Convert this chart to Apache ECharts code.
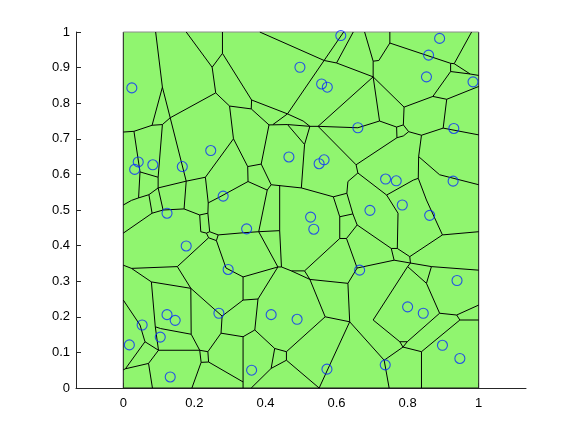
<!DOCTYPE html>
<html>
<head>
<meta charset="utf-8">
<script src="https://cdn.jsdelivr.net/npm/echarts@6/dist/echarts.min.js"></script>
<style>
  html, body { margin: 0; padding: 0; background: #fff; }
  #main { width: 581px; height: 437px; }
</style>
</head>
<body>
<div id="main"></div>
<script>
var dom = document.getElementById('main');
var chart = echarts.init(dom, null, { renderer: 'canvas' });

// sample points (blue circles)
var circleX = [0.024, 0.042, 0.032, 0.083, 0.166, 0.246, 0.281, 0.497, 0.612, 0.558,
  0.574, 0.660, 0.466, 0.565, 0.551, 0.890, 0.859, 0.853, 0.984, 0.930,
  0.738, 0.768, 0.928, 0.785, 0.694, 0.862, 0.665, 0.939, 0.800, 0.844,
  0.898, 0.947, 0.737, 0.527, 0.536, 0.347, 0.416, 0.489, 0.361, 0.573,
  0.123, 0.177, 0.295, 0.269, 0.123, 0.146, 0.053, 0.104, 0.017, 0.132];
var circleY = [0.843, 0.635, 0.614, 0.627, 0.622, 0.667, 0.539, 0.901, 0.990, 0.854,
  0.845, 0.731, 0.649, 0.641, 0.630, 0.982, 0.935, 0.874, 0.860, 0.729,
  0.587, 0.582, 0.581, 0.514, 0.499, 0.485, 0.331, 0.302, 0.228, 0.210,
  0.120, 0.083, 0.065, 0.480, 0.446, 0.447, 0.206, 0.193, 0.050, 0.053,
  0.491, 0.399, 0.333, 0.210, 0.206, 0.190, 0.177, 0.143, 0.121, 0.031];

// the unit square that is tessellated
var squareCorners = [[0, 0], [1, 0], [1, 1], [0, 1]];

// cell edges, each a polyline of [x, y] vertices
var cellEdges = [
  [[0.091,1],[0.110,0.845],[0.132,0.759],[0.177,0.581]],
  [[0.110,0.845],[0.081,0.738],[0.030,0.721],[0,0.719]],
  [[0.081,0.738],[0.110,0.740],[0.132,0.759]],
  [[0.110,0.740],[0.098,0.592],[0.098,0.562]],
  [[0.030,0.721],[0.047,0.607],[0.098,0.592]],
  [[0.047,0.607],[0.043,0.534],[0.023,0.527],[0,0.514]],
  [[0.043,0.534],[0.072,0.543],[0.098,0.562]],
  [[0.072,0.543],[0.081,0.491],[0,0.435]],
  [[0.098,0.562],[0.177,0.581],[0.231,0.592]],
  [[0.098,0.562],[0.112,0.500],[0.081,0.491]],
  [[0.177,0.581],[0.171,0.503]],
  [[0.112,0.500],[0.171,0.503],[0.215,0.486],[0.238,0.491]],
  [[0.132,0.759],[0.260,0.829]],
  [[0.177,1],[0.250,0.901],[0.260,0.829],[0.299,0.792],[0.310,0.700],[0.231,0.592]],
  [[0.279,1],[0.279,0.940],[0.250,0.901]],
  [[0.279,0.940],[0.361,0.809],[0.360,0.784],[0.299,0.792]],
  [[0.310,0.700],[0.350,0.622],[0.388,0.629],[0.410,0.739],[0.360,0.784]],
  [[0.350,0.622],[0.351,0.580]],
  [[0.231,0.592],[0.239,0.520],[0.238,0.491]],
  [[0.239,0.520],[0.272,0.537],[0.351,0.580]],
  [[0.215,0.486],[0.218,0.439],[0.234,0.435],[0.243,0.439],[0.238,0.491]],
  [[0.243,0.439],[0.267,0.430],[0.262,0.414],[0.240,0.422],[0.234,0.435]],
  [[0.267,0.430],[0.337,0.436],[0.381,0.439]],
  [[0.262,0.414],[0.289,0.337],[0.337,0.312]],
  [[0.240,0.422],[0.152,0.341]],
  [[0,0.345],[0.023,0.336],[0.152,0.341]],
  [[0.023,0.336],[0.079,0.298],[0.190,0.280],[0.152,0.341]],
  [[0.079,0.298],[0.090,0.172],[0.099,0.106]],
  [[0.190,0.280],[0.191,0.151],[0.215,0.106]],
  [[0.190,0.280],[0.278,0.202],[0.275,0.154],[0.238,0.102]],
  [[0.278,0.202],[0.337,0.247],[0.337,0.312]],
  [[0,0.247],[0.047,0.177],[0.061,0.130],[0.099,0.106],[0.215,0.106]],
  [[0.090,0.172],[0.105,0.167],[0.191,0.151]],
  [[0.215,0.106],[0.238,0.102],[0.240,0.073],[0.219,0.072],[0.215,0.106]],
  [[0.219,0.072],[0.193,0]],
  [[0.240,0.073],[0.337,0.017]],
  [[0.275,0.154],[0.337,0.144],[0.337,0]],
  [[0.061,0.130],[0.006,0.054],[0,0.051]],
  [[0.006,0.054],[0.071,0.069],[0.082,0]],
  [[0.099,0.106],[0.071,0.069]],
  [[0.416,0.571],[0.405,0.556],[0.381,0.439]],
  [[0.351,0.580],[0.405,0.556]],
  [[0.381,0.439],[0.440,0.442],[0.440,0.569]],
  [[0.381,0.439],[0.435,0.340],[0.445,0.340],[0.440,0.442]],
  [[0.337,0.312],[0.435,0.340]],
  [[0.445,0.340],[0.473,0.329],[0.510,0.329],[0.609,0.420]],
  [[0.473,0.329],[0.525,0.305],[0.510,0.329]],
  [[0.525,0.305],[0.632,0.294],[0.658,0.337]],
  [[0.525,0.305],[0.568,0.200],[0.637,0.186],[0.632,0.294]],
  [[0.609,0.420],[0.609,0.481],[0.591,0.537]],
  [[0.609,0.481],[0.646,0.489],[0.658,0.458],[0.628,0.420],[0.609,0.420]],
  [[0.628,0.420],[0.658,0.337],[0.762,0.359]],
  [[0.337,0.247],[0.379,0.250],[0.435,0.340]],
  [[0.379,0.250],[0.370,0.163],[0.337,0.144]],
  [[0.370,0.163],[0.426,0.111],[0.459,0.102],[0.568,0.200]],
  [[0.426,0.111],[0.416,0.055],[0.459,0.078],[0.459,0.102]],
  [[0.416,0.055],[0.360,0]],
  [[0.459,0.078],[0.551,0],[0.637,0.186]],
  [[0.637,0.186],[0.734,0.078],[0.748,0]],
  [[0.734,0.078],[0.787,0.115]],
  [[0.778,0.130],[0.799,0.130],[0.787,0.115],[0.778,0.130]],
  [[0.787,0.115],[0.839,0.102],[0.839,0]],
  [[0.839,0.102],[0.947,0.191],[1,0.191]],
  [[0.947,0.191],[0.938,0.205],[1,0.233]],
  [[0.938,0.205],[0.890,0.210],[0.799,0.130]],
  [[0.890,0.210],[0.853,0.294],[0.800,0.341],[0.703,0.191],[0.778,0.130]],
  [[0.853,0.294],[0.867,0.341],[1,0.331]],
  [[0.867,0.341],[0.808,0.351],[0.800,0.341]],
  [[0.808,0.351],[0.806,0.369],[0.898,0.430],[1,0.439]],
  [[0.806,0.369],[0.771,0.392],[0.754,0.392],[0.658,0.458]],
  [[0.754,0.392],[0.762,0.359],[0.808,0.351]],
  [[0.771,0.392],[0.773,0.491],[0.741,0.542]],
  [[0.898,0.430],[0.853,0.528],[0.830,0.589],[0.831,0.650]],
  [[0.831,0.650],[0.890,0.599],[1,0.571]],
  [[0.830,0.589],[0.816,0.584],[0.741,0.542],[0.660,0.604]],
  [[0.831,0.650],[0.839,0.710],[0.900,0.730],[1,0.711]],
  [[0.839,0.710],[0.803,0.720],[0.788,0.708],[0.770,0.703],[0.769,0.733],[0.788,0.739],[0.803,0.720]],
  [[0.788,0.739],[0.790,0.789],[0.871,0.819],[0.910,0.811],[1,0.847]],
  [[0.910,0.811],[0.900,0.730]],
  [[0.871,0.819],[0.921,0.889],[0.921,0.912],[0.750,0.969],[0.750,1]],
  [[0.921,0.889],[0.976,0.882],[1,0.878]],
  [[0.980,1],[0.931,0.911],[0.976,0.882]],
  [[0.931,0.911],[0.921,0.912]],
  [[0.750,0.969],[0.719,0.920],[0.703,0.918],[0.679,1]],
  [[0.703,0.918],[0.703,0.874],[0.790,0.789]],
  [[0.703,0.874],[0.721,0.750],[0.769,0.733]],
  [[0.721,0.750],[0.660,0.731],[0.548,0.735],[0.525,0.735],[0.462,0.740],[0.410,0.739]],
  [[0.770,0.703],[0.655,0.627],[0.548,0.735]],
  [[0.655,0.627],[0.660,0.604],[0.632,0.580],[0.629,0.547],[0.646,0.489]],
  [[0.629,0.547],[0.591,0.537],[0.501,0.562],[0.416,0.571],[0.388,0.629]],
  [[0.501,0.562],[0.510,0.684],[0.462,0.740]],
  [[0.510,0.684],[0.525,0.735]],
  [[0.548,0.735],[0.703,0.874]],
  [[0.600,0.913],[0.703,0.874]],
  [[0.647,1],[0.600,0.913],[0.565,0.920],[0.620,1]],
  [[0.384,1],[0.565,0.920],[0.462,0.770]],
  [[0.462,0.770],[0.421,0.740]],
  [[0.462,0.770],[0.506,0.750],[0.525,0.735]],
  [[0.361,0.809],[0.462,0.770]]
];

var xTicks = [0, 0.2, 0.4, 0.6, 0.8, 1];

var axisFont = { fontFamily: 'Liberation Sans', fontSize: 13, color: '#000' };

chart.setOption({
  animation: false,
  grid: { left: 76, right: 55, top: 32, bottom: 49, containLabel: false },
  xAxis: {
    type: 'value',
    min: -0.1331,
    max: 1.1331,
    splitLine: { show: false },
    axisLine: { onZero: false, lineStyle: { color: '#262626', width: 1 } },
    axisTick: { inside: true, length: 5, customValues: xTicks, lineStyle: { color: '#262626' } },
    axisLabel: Object.assign({ margin: 9, customValues: xTicks }, axisFont)
  },
  yAxis: {
    type: 'value',
    min: 0,
    max: 1,
    interval: 0.1,
    splitLine: { show: false },
    axisLine: { show: true, onZero: false, lineStyle: { color: '#262626', width: 1 } },
    axisTick: { show: true, inside: true, length: 5, lineStyle: { color: '#262626' } },
    axisLabel: Object.assign({ margin: 6 }, axisFont)
  },
  series: [
    {
      type: 'custom',
      z: 1,
      silent: true,
      data: [0],
      renderItem: function (params, api) {
        var pts = squareCorners.map(function (c) { return api.coord(c); });
        return {
          type: 'group',
          children: [
            {
              type: 'polygon',
              shape: { points: pts },
              style: { fill: '#90f56f', stroke: null }
            },
            {
              // left, bottom and right sides
              type: 'polyline',
              shape: { points: [pts[3], pts[0], pts[1], pts[2]] },
              style: { fill: null, stroke: '#1a1a1a', lineWidth: 1 }
            },
            {
              // top side is lighter
              type: 'line',
              shape: { x1: pts[3][0], y1: pts[3][1], x2: pts[2][0], y2: pts[2][1] },
              style: { stroke: '#8c8c8c', lineWidth: 1 }
            }
          ]
        };
      }
    },
    {
      type: 'lines',
      coordinateSystem: 'cartesian2d',
      polyline: true,
      z: 2,
      silent: true,
      lineStyle: { color: '#000', width: 1, opacity: 1 },
      data: cellEdges.map(function (p) { return { coords: p }; })
    },
    {
      type: 'scatter',
      z: 3,
      symbol: 'circle',
      symbolSize: 10,
      itemStyle: { color: 'rgba(0,0,0,0)', borderColor: '#0a2bff', borderWidth: 1.1 },
      data: circleX.map(function (x, i) { return [x, circleY[i]]; })
    }
  ]
});
</script>
</body>
</html>
